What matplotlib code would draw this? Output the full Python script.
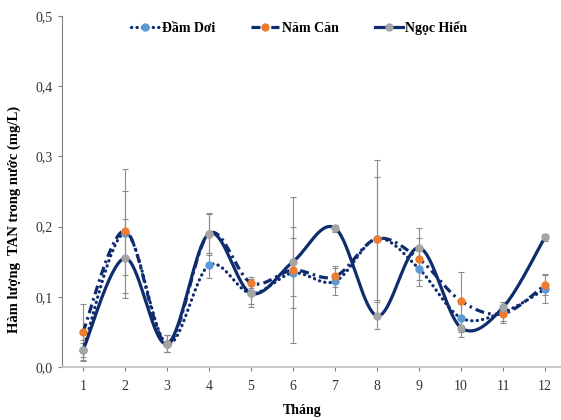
import numpy as np
import matplotlib
matplotlib.use("Agg")
import matplotlib.pyplot as plt
from matplotlib.lines import Line2D

plt.rcParams['font.family'] = ['Liberation Serif', 'DejaVu Serif']

months = [1, 2, 3, 4, 5, 6, 7, 8, 9, 10, 11, 12]

dam_doi = [0.025, 0.191, 0.033, 0.145, 0.105, 0.134, 0.122, 0.183, 0.140, 0.070, 0.078, 0.111]
nam_can = [0.050, 0.194, 0.033, 0.190, 0.120, 0.138, 0.129, 0.183, 0.154, 0.094, 0.076, 0.117]
ngoc_hien = [0.024, 0.155, 0.033, 0.190, 0.105, 0.150, 0.198, 0.073, 0.170, 0.056, 0.085, 0.185]

dam_doi_err = [0.010, 0.060, 0.012, 0.018, 0.015, 0.050, 0.019, 0.087, 0.025, 0.020, 0.015, 0.020]
nam_can_err = [0.040, 0.088, 0.012, 0.028, 0.008, 0.104, 0.015, 0.112, 0.030, 0.041, 0.010, 0.015]
ngoc_hien_err = [0.015, 0.056, 0.012, 0.030, 0.020, 0.049, 0.005, 0.019, 0.028, 0.013, 0.008, 0.005]

names = ['Đầm Dơi', 'Năm Căn', 'Ngọc Hiển']


def smooth(x, y, n=40):
    # Catmull-Rom style bezier, like Excel's smoothed line
    x = np.asarray(x, float)
    y = np.asarray(y, float)
    px, py = [], []
    for i in range(len(x) - 1):
        i0 = max(i - 1, 0)
        i3 = min(i + 2, len(x) - 1)
        c1x = x[i] + (x[i + 1] - x[i0]) / 6
        c1y = y[i] + (y[i + 1] - y[i0]) / 6
        c2x = x[i + 1] - (x[i3] - x[i]) / 6
        c2y = y[i + 1] - (y[i3] - y[i]) / 6
        t = np.linspace(0, 1, n)
        a = (1 - t) ** 3
        b = 3 * (1 - t) ** 2 * t
        c = 3 * (1 - t) * t ** 2
        d = t ** 3
        px.append(a * x[i] + b * c1x + c * c2x + d * x[i + 1])
        py.append(a * y[i] + b * c1y + c * c2y + d * y[i + 1])
    return np.concatenate(px), np.concatenate(py)


navy = '#0F2C6E'
styles = [
    dict(ls=(0, (0.1, 1.6)), cap='round', mc='#5B9BD5'),
    dict(ls=(0, (2.8, 1.3, 0.8, 1.3)), cap='butt', mc='#ED7D31'),
    dict(ls='-', cap='round', mc='#A5A5A5'),
]

fig = plt.figure(figsize=(5.61, 4.2), dpi=100)
ax = fig.add_axes([0.1105, 0.126, 0.891, 0.836])

for k, (vals, errs) in enumerate([(dam_doi, dam_doi_err), (nam_can, nam_can_err), (ngoc_hien, ngoc_hien_err)]):
    st = styles[k]
    ax.errorbar(months, vals, yerr=errs, fmt='none', ecolor='#8C8C8C', elinewidth=0.8,
                capsize=2.5, capthick=0.8, zorder=1)
    sx, sy = smooth(months, vals)
    ax.plot(sx, sy, color=navy, lw=2.3, ls=st['ls'], dash_capstyle=st['cap'],
            solid_capstyle='round', zorder=2 + k)
    ax.plot(months, vals, 'o', color=st['mc'], ms=5, zorder=6 + k)

ax.set_xlim(0.5, 12.4)
ax.set_ylim(0, 0.5)
ax.set_xticks(months)
ax.set_yticks([0, 0.1, 0.2, 0.3, 0.4, 0.5])
ax.set_yticklabels(['0,0', '0,1', '0,2', '0,3', '0,4', '0,5'])
ax.tick_params(axis='both', labelsize=10, colors='#7F7F7F', labelcolor='#333333', length=3, width=0.8)
ax.tick_params(axis='x', pad=6)
ax.tick_params(axis='y', pad=4)
for s in ['top', 'right']:
    ax.spines[s].set_visible(False)
ax.spines['left'].set_color('#7F7F7F')
ax.spines['bottom'].set_color('#BFBFBF')
ax.spines['bottom'].set_linewidth(1.2)

ax.set_ylabel('Hàm lượng  TAN trong nước (mg/L)', fontsize=10.5, fontweight='bold')
ax.yaxis.set_label_coords(-0.083, 0.42)
ax.set_xlabel('Tháng', fontsize=10, fontweight='bold')
ax.xaxis.set_label_coords(0.48, -0.105)

handles = [Line2D([0], [0], color=navy, lw=2.3, ls=st['ls'], dash_capstyle=st['cap'],
                  marker='o', markerfacecolor=st['mc'], markeredgecolor=st['mc'], ms=5)
           for st in styles]
ax.legend(handles, names, loc='upper center', bbox_to_anchor=(0.475, 1.02), ncol=3,
          frameon=False, prop={'weight': 'bold', 'size': 10}, handlelength=2.0,
          columnspacing=2.6, handletextpad=0.2)

fig.savefig('out.png', dpi=100)
